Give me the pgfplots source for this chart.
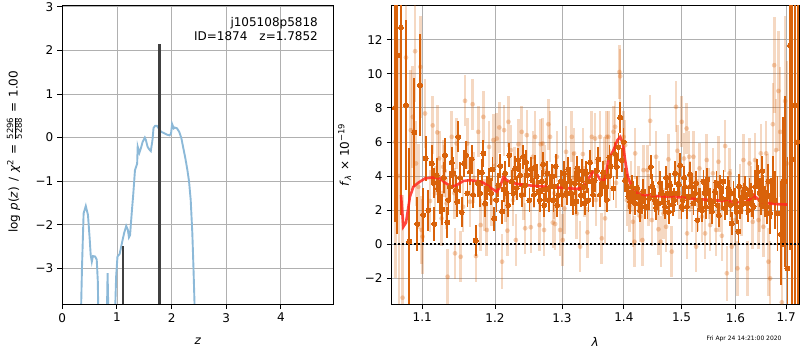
\documentclass[border=0pt]{standalone}
\usepackage{fontspec}
\setmainfont{DejaVu Sans}
\usepackage{pgfplots}
\pgfplotsset{compat=1.18}
\usepackage{pgfplotstable}

\definecolor{dorange}{RGB}{217,98,10}
\definecolor{pzblue}{RGB}{140,185,216}
\definecolor{gridgray}{RGB}{176,176,176}
\definecolor{modelred}{RGB}{255,40,30}

\pgfplotstableread{
x y e
1.0647 8.0 6.7
1.0676 11.08 10.5
1.0723 12.70 11.0
1.0788 8.16 5.0
1.0830 0.15 5.5
1.0896 6.56 3.2
1.0935 1.19 1.6
1.0970 9.33 3.0
1.1013 1.72 1.6
1.1045 5.03 1.3
1.1079 2.00 1.2
1.1125 4.74 1.1
1.1160 1.19 1.0
1.1192 4.06 1.0
1.1236 2.79 1.0
1.1267 2.05 0.9
1.1303 5.23 1.0
1.1334 1.29 0.9
1.1371 3.37 0.9
1.1416 4.19 0.9
1.1453 3.18 0.9
1.1484 6.30 0.9
1.1531 1.89 0.9
1.1563 4.74 0.8
1.1591 5.23 0.8
1.1646 4.25 0.8
1.1690 2.90 0.8
1.1725 0.21 0.9
1.1787 2.99 0.8
1.1834 5.33 0.8
1.1880 3.30 0.7
1.1919 3.76 0.7
1.1943 2.99 0.7
1.1990 1.50 0.7
1.2048 3.47 0.7
1.2105 1.91 0.7
1.2145 4.16 0.7
1.2169 2.99 0.7
1.2208 5.23 0.7
1.2243 3.67 0.7
1.2292 4.45 0.7
1.2340 4.94 0.7
1.2365 4.06 0.7
1.2414 5.13 0.7
1.2440 3.47 0.7
1.2474 4.06 0.7
1.2504 2.59 0.7
1.2549 3.76 0.7
1.2589 4.54 0.7
1.2639 3.08 0.7
1.2690 3.67 0.7
1.2729 2.30 0.7
1.2775 4.16 0.7
1.2817 3.37 0.7
1.2868 2.59 0.7
1.2905 4.58 0.7
1.2945 2.89 0.7
1.2982 3.67 0.7
1.3033 4.16 0.7
1.3075 2.99 0.7
1.3127 3.67 0.7
1.3169 2.39 0.7
1.3206 3.57 0.7
1.3242 4.45 0.7
1.3297 2.89 0.7
1.3339 3.37 0.7
1.3381 4.16 0.7
1.3418 2.59 0.7
1.3472 3.67 0.7
1.3520 3.76 0.7
1.3578 4.98 0.7
1.3635 3.57 0.7
1.3689 3.37 0.7
1.3743 3.96 0.7
1.3783 4.58 0.7
1.3826 3.28 0.7
1.3882 4.54 0.7
1.3938 7.43 0.9
1.3966 4.94 0.7
1.4021 3.76 0.7
1.4077 2.79 0.7
1.4134 3.37 0.7
1.4190 2.39 0.7
1.4246 2.79 0.7
1.4304 2.49 0.7
1.4361 2.20 0.7
1.4401 2.20 0.7
1.4459 4.54 0.7
1.4504 2.99 0.7
1.4551 2.14 0.7
1.4591 2.39 0.7
1.4650 2.99 0.7
1.4708 2.20 0.7
1.4749 2.99 0.7
1.4796 3.47 0.7
1.4844 2.33 0.7
1.4885 4.16 0.7
1.4926 2.99 0.7
1.4975 4.64 0.7
1.5024 2.59 0.7
1.5065 3.37 0.7
1.5125 2.79 0.7
1.5186 3.37 0.7
1.5246 2.99 0.7
1.5288 1.42 0.7
1.5337 2.59 0.7
1.5398 3.67 0.7
1.5447 2.20 0.7
1.5490 2.99 0.7
1.5554 1.91 0.7
1.5615 3.08 0.7
1.5658 2.30 0.7
1.5708 3.37 0.7
1.5770 3.67 0.7
1.5834 2.39 0.7
1.5884 3.08 0.7
1.5929 1.22 0.7
1.5992 2.59 0.7
1.6056 0.74 0.7
1.6089 2.20 0.7
1.6153 2.89 0.7
1.6218 2.39 0.7
1.6269 3.18 0.7
1.6315 2.39 0.8
1.6380 3.37 0.8
1.6446 3.76 0.9
1.6492 2.59 0.9
1.6543 3.08 1.0
1.6611 2.20 1.0
1.6677 1.81 1.2
1.6731 3.76 1.4
1.6777 2.59 1.7
1.6824 1.81 2.2
1.6892 0.60 3.0
1.6932 3.67 3.8
1.6979 3.67 5.0
1.7026 -1.41 6.5
1.7080 11.67 12.0
1.7125 5.00 12.0
1.7182 8.16 14.0
1.7235 6.00 12.0
1.1150 3.6 0.9
1.1210 3.3 0.9
1.1285 3.9 0.9
1.1350 2.6 0.9
1.1395 4.8 0.9
1.1470 2.5 0.9
1.1510 3.9 0.9
1.1610 3.0 0.8
1.1670 5.0 0.8
1.1755 3.6 0.8
1.1810 4.2 0.8
1.1860 2.4 0.8
1.1965 4.4 0.7
1.2020 2.6 0.7
1.2075 4.6 0.7
1.2125 3.2 0.7
1.2190 2.3 0.7
1.2265 3.0 0.7
1.2315 3.3 0.7
1.2390 2.9 0.7
1.2455 4.8 0.7
1.2525 4.4 0.7
1.2570 2.9 0.7
1.2615 4.0 0.7
1.2660 2.6 0.7
1.2710 4.7 0.7
1.2750 3.2 0.7
1.2795 2.6 0.7
1.2845 4.0 0.7
1.2885 3.4 0.7
1.2925 2.3 0.7
1.3005 2.9 0.7
1.3055 3.4 0.7
1.3100 4.4 0.7
1.3145 3.0 0.7
1.3225 2.5 0.7
1.3270 3.8 0.7
1.3320 4.3 0.7
1.3360 2.4 0.7
1.3400 3.7 0.7
1.3445 4.8 0.7
1.3495 2.9 0.7
1.3550 4.3 0.7
1.3605 2.9 0.7
1.3660 4.2 0.7
1.3715 2.6 0.7
1.3760 5.1 0.7
1.3855 5.3 0.7
1.3910 5.7 0.8
1.3995 6.0 0.8
1.4050 3.4 0.7
1.4105 2.5 0.7
1.4160 3.0 0.7
1.4220 3.3 0.7
1.4275 2.0 0.7
1.4330 3.1 0.7
1.4430 2.7 0.7
1.4480 3.4 0.7
1.4530 2.6 0.7
1.4620 3.6 0.7
1.4680 2.5 0.7
1.4730 3.9 0.7
1.4770 1.9 0.7
1.4820 3.0 0.7
1.4865 2.6 0.7
1.4950 3.5 0.7
1.5000 2.2 0.7
1.5045 3.9 0.7
1.5095 2.2 0.7
1.5155 4.1 0.7
1.5215 2.4 0.7
1.5265 3.6 0.7
1.5310 2.6 0.7
1.5370 2.0 0.7
1.5420 3.0 0.7
1.5470 3.8 0.7
1.5520 2.6 0.7
1.5585 2.5 0.7
1.5640 3.6 0.7
1.5685 1.7 0.7
1.5740 2.7 0.7
1.5800 2.1 0.7
1.5860 3.3 0.7
1.5905 2.3 0.7
1.5960 3.0 0.7
1.6025 1.9 0.7
1.6070 3.4 0.7
1.6120 2.5 0.7
1.6185 3.3 0.7
1.6245 2.0 0.7
1.6295 2.9 0.7
1.6350 2.2 0.7
1.6410 4.2 0.8
1.6470 3.0 0.8
1.6520 4.3 0.9
1.6580 2.5 0.9
1.6640 3.7 1.0
1.6700 2.7 1.2
}\darktab

\pgfplotstableread{
x y e
1.0650 6.00 8.0
1.0700 4.00 8.0
1.0744 -3.13 6.0
1.0788 10.95 4.0
1.0850 6.69 3.5
1.0876 7.47 3.0
1.0906 11.32 3.0
1.0918 4.74 2.5
1.0948 3.37 2.5
1.0975 10.40 3.0
1.0991 0.84 2.0
1.1004 0.45 2.2
1.1036 7.67 2.0
1.1102 2.54 1.8
1.1138 6.97 1.7
1.1170 3.00 1.6
1.1199 6.56 1.6
1.1225 5.03 1.6
1.1257 1.52 1.6
1.1279 4.54 1.6
1.1300 4.30 1.5
1.1324 2.40 1.5
1.1338 -1.90 1.6
1.1394 6.30 1.5
1.1430 3.00 1.5
1.1439 -0.53 1.5
1.1461 5.91 1.5
1.1517 -0.73 1.5
1.1550 2.20 1.5
1.1577 8.41 1.5
1.1609 5.91 1.5
1.1646 2.50 1.5
1.1683 8.21 1.5
1.1700 3.90 1.5
1.1729 -0.69 1.5
1.1761 6.59 1.5
1.1796 1.13 1.5
1.1834 7.47 1.5
1.1850 2.30 1.5
1.1882 0.84 1.5
1.1915 5.71 1.5
1.1953 2.59 1.5
1.1975 6.11 1.5
1.2000 4.60 1.5
1.2025 6.20 1.5
1.2062 6.85 1.5
1.2101 -1.02 1.6
1.2131 6.69 1.5
1.2150 2.80 1.5
1.2179 0.80 1.5
1.2194 7.18 1.5
1.2230 5.52 1.5
1.2262 2.59 1.5
1.2280 4.20 1.5
1.2302 0.25 1.5
1.2340 5.87 1.5
1.2390 6.59 1.5
1.2420 2.90 1.5
1.2440 0.94 1.5
1.2465 6.40 1.5
1.2525 1.00 1.5
1.2555 5.13 1.5
1.2570 3.60 1.5
1.2589 6.30 1.5
1.2654 1.13 1.5
1.2675 5.87 1.5
1.2705 5.91 1.5
1.2725 0.84 1.5
1.2740 4.30 1.5
1.2791 7.04 1.5
1.2817 6.30 1.5
1.2859 1.27 1.5
1.2880 3.00 1.5
1.2894 1.19 1.5
1.2921 5.13 1.5
1.2971 0.84 1.5
1.3013 0.25 1.5
1.3040 2.10 1.5
1.3064 5.42 1.5
1.3154 6.30 1.5
1.3180 3.90 1.5
1.3190 5.33 1.5
1.3232 1.81 1.5
1.3286 -0.14 1.5
1.3329 5.29 1.5
1.3360 3.10 1.5
1.3403 0.70 1.5
1.3472 6.30 1.5
1.3526 6.20 1.5
1.3540 2.60 1.5
1.3607 6.30 1.5
1.3635 0.35 1.5
1.3680 4.80 1.5
1.3689 1.52 1.5
1.3716 6.30 1.5
1.3743 6.30 1.5
1.3771 4.06 1.5
1.3826 6.60 1.5
1.3854 6.89 1.5
1.3870 3.60 1.5
1.3926 10.10 1.6
1.3938 9.85 1.6
1.3994 6.30 1.5
1.4021 5.81 1.5
1.4049 2.59 1.5
1.4094 2.24 1.5
1.4120 3.40 1.5
1.4152 1.32 1.5
1.4179 0.15 1.5
1.4190 5.33 1.5
1.4250 3.10 1.5
1.4275 1.62 1.5
1.4314 0.25 1.5
1.4332 4.35 1.5
1.4401 4.35 1.5
1.4420 2.60 1.5
1.4447 7.24 1.5
1.4476 1.42 1.5
1.4551 5.13 1.5
1.4591 0.88 1.5
1.4600 3.40 1.5
1.4632 0.15 1.5
1.4678 1.81 1.5
1.4725 1.03 1.5
1.4766 4.98 1.5
1.4780 2.70 1.5
1.4826 -0.43 1.5
1.4901 8.06 1.5
1.4926 5.48 1.5
1.4960 3.00 1.5
1.5004 7.18 1.5
1.5044 5.03 1.5
1.5092 6.79 1.5
1.5100 0.64 1.5
1.5138 5.13 1.5
1.5150 3.40 1.5
1.5186 2.20 1.5
1.5216 5.13 1.5
1.5264 -0.14 1.5
1.5300 2.30 1.5
1.5325 4.45 1.5
1.5368 1.62 1.5
1.5429 0.64 1.5
1.5459 4.94 1.5
1.5500 3.00 1.5
1.5522 1.13 1.5
1.5572 4.16 1.5
1.5634 0.84 1.5
1.5677 4.84 1.5
1.5700 2.20 1.5
1.5740 0.50 1.5
1.5803 5.76 1.5
1.5834 -1.70 1.6
1.5884 4.16 1.5
1.5900 2.90 1.5
1.5929 -0.14 1.5
1.5992 1.42 1.5
1.6037 -1.41 1.6
1.6089 3.18 1.5
1.6120 2.00 1.5
1.6153 4.94 1.5
1.6230 -1.41 1.6
1.6269 4.74 1.5
1.6300 3.10 1.5
1.6334 1.32 1.6
1.6380 4.94 1.6
1.6446 1.42 1.7
1.6470 2.30 1.6
1.6492 5.33 1.7
1.6543 1.03 1.8
1.6597 5.33 1.9
1.6620 3.50 1.8
1.6644 -1.02 2.0
1.6677 -2.00 2.2
1.6731 7.04 2.4
1.6758 10.50 2.8
1.6797 5.52 3.0
1.6844 8.99 3.5
1.6878 6.59 3.8
1.6912 -3.40 4.0
1.6979 8.40 5.0
1.7013 4.74 6.0
}\lighttab

\pgfplotsset{
  mystyle/.style={
    scale only axis,
    anchor=south west,
    axis line style={line width=0.9bp},
    tick style={line width=0.9bp, black},
    tick align=outside,
    major tick length=4.9bp,
    xtick pos=left, ytick pos=left,
    grid=major,
    major grid style={gridgray, line width=0.8bp},
    tick label style={font=\fontsize{12bp}{14bp}\selectfont},
    label style={font=\fontsize{12bp}{14bp}\selectfont},
    /pgf/number format/assume math mode=true,
  }
}

\begin{document}
\fontsize{12bp}{14.4bp}\selectfont
\begin{tikzpicture}
\useasboundingbox (0bp,0bp) rectangle (800bp,350bp);

% ---------- left panel ----------
\begin{axis}[mystyle,
  at={(62.3bp,46bp)}, width=271bp, height=298.5bp,
  xmin=0, xmax=4.96, ymin=-3.82, ymax=3.03,
  xtick={0,1,2,3,4}, xticklabels={0,1,2,3,4},
  ytick={-3,-2,-1,0,1,2,3}, yticklabels={−3,−2,−1,0,1,2,3},
  xlabel={\textit{z}},
  xlabel style={at={(axis description cs:0.5,-0.124)}, anchor=center},
  ylabel={log\hspace{4bp}\textit{p}(\textit{z})\hspace{5bp}/\hspace{5bp}\textit{χ}\textsuperscript{2}\hspace{5bp}=\hspace{4bp}$\frac{\mbox{\fontsize{8.5bp}{8.5bp}\selectfont 5296}}{\mbox{\fontsize{8.5bp}{8.5bp}\selectfont 5288}}$\hspace{4bp}=\hspace{5bp}1.00},
  ylabel style={at={(axis description cs:-0.177,0.51)}, anchor=center},
]
\addplot[no marks, pzblue, line width=1.9bp] coordinates {
(0.339,-4.2) (0.36,-3.0) (0.39,-1.74) (0.43,-1.57) (0.47,-1.78) (0.50,-2.3)
(0.52,-2.7) (0.54,-2.85) (0.56,-2.72) (0.60,-2.73) (0.63,-2.80) (0.65,-3.3)
(0.665,-4.5) (0.81,-4.5) (0.829,-3.11) (0.85,-4.5) (0.955,-4.5) (0.985,-3.2)
(1.01,-2.73) (1.05,-2.67) (1.09,-2.43) (1.13,-2.2) (1.17,-2.03) (1.20,-2.12)
(1.22,-2.29) (1.24,-2.24) (1.27,-1.74) (1.30,-1.28) (1.33,-0.75) (1.37,-0.6)
(1.38,-0.21) (1.41,-0.35) (1.44,-0.24) (1.47,-0.1) (1.51,0.0) (1.53,-0.06)
(1.56,-0.21) (1.59,-0.27) (1.62,-0.31) (1.65,-0.06) (1.67,0.22) (1.70,0.27)
(1.73,0.27) (1.77,0.2) (1.81,0.13) (1.85,0.11) (1.91,0.07) (1.96,0.05)
(1.99,0.09) (2.01,0.31) (2.04,0.21) (2.06,0.23) (2.10,0.21) (2.14,0.13)
(2.18,-0.02) (2.21,-0.21) (2.25,-0.46) (2.29,-0.75) (2.32,-1.01) (2.35,-1.43)
(2.38,-2.2) (2.40,-2.96) (2.42,-3.81) (2.43,-4.5)
};
\addplot[no marks, black!75, line width=2.4bp] coordinates {(1.11,-5) (1.11,-2.48)};
\addplot[no marks, black!75, line width=3.4bp] coordinates {(1.775,-5) (1.775,2.15)};
\end{axis}

\node[anchor=north east, align=right, inner sep=0pt, font=\fontsize{12bp}{14.5bp}\selectfont] at (318bp,333bp) {j105108p5818\\ID=1874\quad z=1.7852};

% ---------- right panel ----------
\begin{axis}[mystyle,
  at={(391.7bp,46bp)}, width=407.6bp, height=298.5bp,
  xmode=log, xmin=1.0605, xmax=1.727, ymin=-3.5, ymax=14,
  xtick={1.1,1.2,1.3,1.4,1.5,1.6,1.7},
  xticklabels={1.1,1.2,1.3,1.4,1.5,1.6,1.7},
  ytick={-2,0,2,4,6,8,10,12}, yticklabels={−2,0,2,4,6,8,10,12},
  xlabel={\textit{λ}},
  xlabel style={at={(axis description cs:0.499,-0.127)}, anchor=center},
  ylabel={\textit{f}\textsubscript{\textit{λ}}\hspace{4bp}×\hspace{4bp}10\textsuperscript{−19}},
  ylabel style={at={(axis description cs:-0.1155,0.5)}, anchor=center},
]
\addplot[color=dorange, only marks, mark=*, mark size=2.4bp,
  mark options={fill=dorange, draw=dorange, fill opacity=0.3, draw opacity=0},
  error bars/.cd, y dir=both, y explicit, error mark=none,
  error bar style={line width=2.6bp, color=dorange, opacity=0.25}]
  table[x=x, y=y, y error=e] {\lighttab};
\addplot[color=dorange, only marks, mark=*, mark size=2.5bp,
  mark options={fill=dorange, draw=dorange, line width=0bp},
  error bars/.cd, y dir=both, y explicit, error mark=none,
  error bar style={line width=1.8bp, color=dorange}]
  table[x=x, y=y, y error=e] {\darktab};
\addplot[no marks, modelred, opacity=0.85, line width=2.6bp] coordinates {
(1.0724,2.89) (1.0754,1.03) (1.0788,1.27) (1.0839,2.79) (1.0883,3.37)
(1.0948,3.61) (1.1036,3.86) (1.1146,3.92) (1.1236,3.86) (1.1303,3.61)
(1.1394,3.37) (1.1461,3.47) (1.1553,3.71) (1.1646,3.76) (1.1738,3.71)
(1.1834,3.61) (1.1929,3.33) (1.2025,3.08) (1.2072,3.37) (1.2121,3.96)
(1.2169,3.76) (1.2243,3.61) (1.2365,3.51) (1.2514,3.45) (1.2765,3.37)
(1.3023,3.31) (1.3232,3.25) (1.3312,3.31) (1.3392,3.65) (1.3472,4.16)
(1.3526,4.31) (1.3578,3.96) (1.3635,3.65) (1.3689,3.86) (1.3743,4.94)
(1.3826,5.52) (1.3893,6.11) (1.3938,6.30) (1.3983,5.91) (1.4021,4.94)
(1.4066,3.96) (1.4134,3.37) (1.4218,3.02) (1.4332,2.89) (1.4562,2.83)
(1.4975,2.75) (1.5264,2.65) (1.5583,2.59) (1.5897,2.51) (1.6089,2.47)
(1.6218,2.49) (1.6282,2.65) (1.6347,2.89) (1.6413,2.69) (1.6511,2.49)
(1.6677,2.39) (1.6844,2.35) (1.7026,2.33)
};
\addplot[no marks, black, line width=1.6bp, dash pattern=on 1.6bp off 2.4bp] coordinates {(1.0635,0) (1.727,0)};
\end{axis}

\node[font=\fontsize{6bp}{7bp}\selectfont] at (744bp,11bp) {Fri Apr 24 14:21:00 2020};
\end{tikzpicture}
\end{document}
